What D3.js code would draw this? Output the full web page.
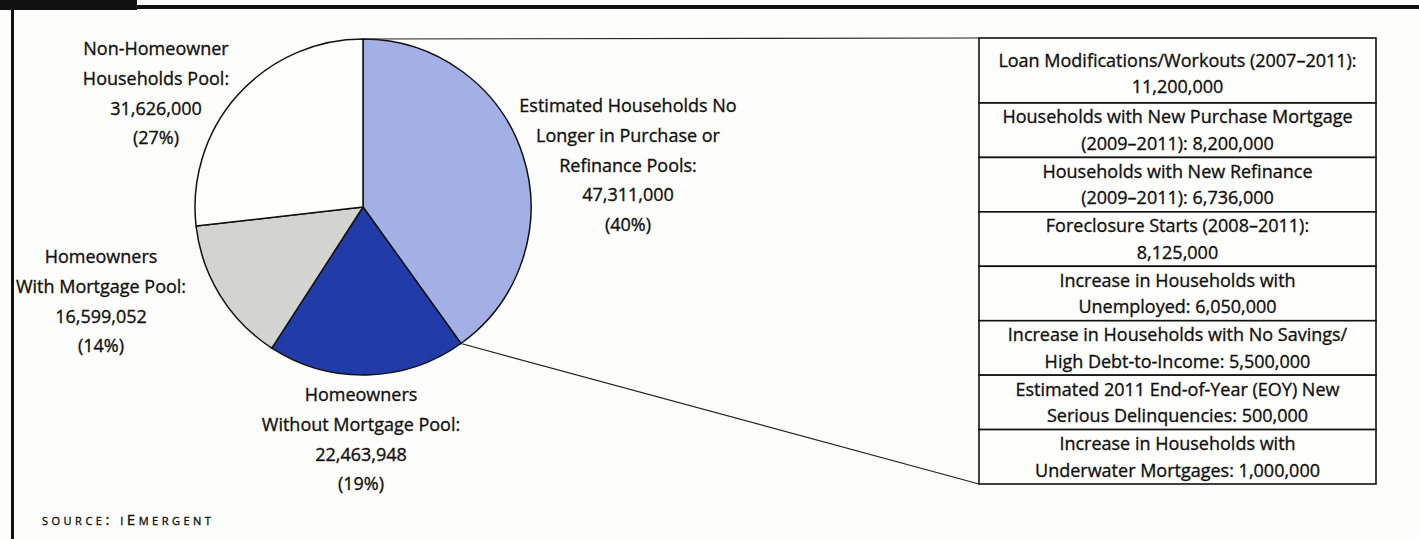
<!DOCTYPE html>
<html>
<head>
<meta charset="utf-8">
<script src="https://cdn.jsdelivr.net/npm/d3@7"></script>
<style>
  body { margin: 0; background: #fdfdfb; }
  svg { display: block; }
  text { font-family: "Open Sans", "DejaVu Sans", sans-serif; fill: #111; stroke: #111; stroke-width: 0.35px; }
</style>
</head>
<body>
<svg id="chart" width="1419" height="539"></svg>
<script>
// pie data, in drawing order (clockwise from 12 o'clock)
var categories = [
  "Estimated Households No Longer in Purchase or Refinance Pools",
  "Homeowners Without Mortgage Pool",
  "Homeowners With Mortgage Pool",
  "Non-Homeowner Households Pool"
];
var values = [47311000, 22463948, 16599052, 31626000];
var percents = ["40%", "19%", "14%", "27%"];
var labelLines = [
  ["Estimated Households No", "Longer in Purchase or", "Refinance Pools:"],
  ["Homeowners", "Without Mortgage Pool:"],
  ["Homeowners", "With Mortgage Pool:"],
  ["Non-Homeowner", "Households Pool:"]
];
var sliceColors = ["#a3b0e6", "#213ca9", "#d3d3cf", "#fefefd"];

// breakdown table of the 40% slice
var tableRows = [
  ["Loan Modifications/Workouts (2007\u20132011):", "11,200,000"],
  ["Households with New Purchase Mortgage", "(2009\u20132011): 8,200,000"],
  ["Households with New Refinance", "(2009\u20132011): 6,736,000"],
  ["Foreclosure Starts (2008\u20132011):", "8,125,000"],
  ["Increase in Households with", "Unemployed: 6,050,000"],
  ["Increase in Households with No Savings/", "High Debt-to-Income: 5,500,000"],
  ["Estimated 2011 End-of-Year (EOY) New", "Serious Delinquencies: 500,000"],
  ["Increase in Households with", "Underwater Mortgages: 1,000,000"]
];

var svg = d3.select("#chart");
var fmt = d3.format(",");

// frame: black tab, top rule, left rule
svg.append("rect").attr("x", 0).attr("y", 0).attr("width", 137).attr("height", 10).attr("fill", "#111");
svg.append("rect").attr("x", 0).attr("y", 5).attr("width", 1419).attr("height", 4).attr("fill", "#111");
svg.append("rect").attr("x", 11).attr("y", 0).attr("width", 3).attr("height", 539).attr("fill", "#111");

// pie
var cx = 363, cy = 207, radius = 168;
var pie = d3.pie().sort(null).value(function(d) { return d; });
var arcs = pie(values);
var arc = d3.arc().innerRadius(0).outerRadius(radius);

var gPie = svg.append("g").attr("transform", "translate(" + cx + "," + cy + ")");

// table scales: first row is a bit taller than the rest
var tableX = d3.scaleLinear().range([979, 1376]);
var tableTop = 38, tableBottom = 484;
var restY = d3.scaleBand().domain(d3.range(1, tableRows.length)).range([103, tableBottom]);
function rowTop(i) { return i === 0 ? tableTop : restY(i); }
function rowHeight(i) { return i === 0 ? restY(1) - tableTop : restY.bandwidth(); }

// connector lines from the 40% slice to the table
var a0 = arcs[0];
svg.append("line")
  .attr("x1", cx + radius * Math.sin(a0.startAngle))
  .attr("y1", cy - radius * Math.cos(a0.startAngle))
  .attr("x2", tableX(0)).attr("y2", tableTop)
  .attr("stroke", "#222").attr("stroke-width", 1.2);
svg.append("line")
  .attr("x1", cx + radius * Math.sin(a0.endAngle))
  .attr("y1", cy - radius * Math.cos(a0.endAngle))
  .attr("x2", tableX(0)).attr("y2", tableBottom)
  .attr("stroke", "#222").attr("stroke-width", 1.2);

gPie.selectAll("path")
  .data(arcs)
  .enter().append("path")
    .attr("d", arc)
    .attr("fill", function(d, i) { return sliceColors[i]; })
    .attr("stroke", "#111")
    .attr("stroke-width", 1.5)
    .attr("stroke-linejoin", "round");

// label anchors (centre x, first line y)
var labelPos = [[628, 106], [361, 395], [101, 257], [156, 49]];
var lineGap = 29.6;

labelLines.forEach(function(lines, i) {
  var all = lines.concat([fmt(values[i]), "(" + percents[i] + ")"]);
  var t = svg.append("text")
    .attr("text-anchor", "middle")
    .attr("font-size", 18);
  all.forEach(function(s, j) {
    t.append("tspan")
      .attr("x", labelPos[i][0])
      .attr("y", labelPos[i][1] + j * lineGap)
      .attr("dy", "0.36em")
      .text(s);
  });
});

// table
var gTable = svg.append("g");
gTable.selectAll("rect")
  .data(tableRows)
  .enter().append("rect")
    .attr("x", tableX(0))
    .attr("y", function(d, i) { return rowTop(i); })
    .attr("width", tableX(1) - tableX(0))
    .attr("height", function(d, i) { return rowHeight(i); })
    .attr("fill", "#fefefd")
    .attr("stroke", "#111")
    .attr("stroke-width", 1.6);

tableRows.forEach(function(row, i) {
  var mid = rowTop(i) + rowHeight(i) / 2 + (i === 0 ? 3 : 0);
  var t = gTable.append("text")
    .attr("text-anchor", "middle")
    .attr("font-size", 18);
  row.forEach(function(s, j) {
    t.append("tspan")
      .attr("x", tableX(0.5))
      .attr("y", mid + (j - 0.5) * 26.5)
      .attr("dy", "0.36em")
      .text(s);
  });
});

// source
svg.append("text")
  .attr("x", 42).attr("y", 525)
  .attr("font-size", 15)
  .attr("letter-spacing", 3.5)
  .style("font-variant", "small-caps")
  .text("source: iEmergent");
</script>
</body>
</html>
